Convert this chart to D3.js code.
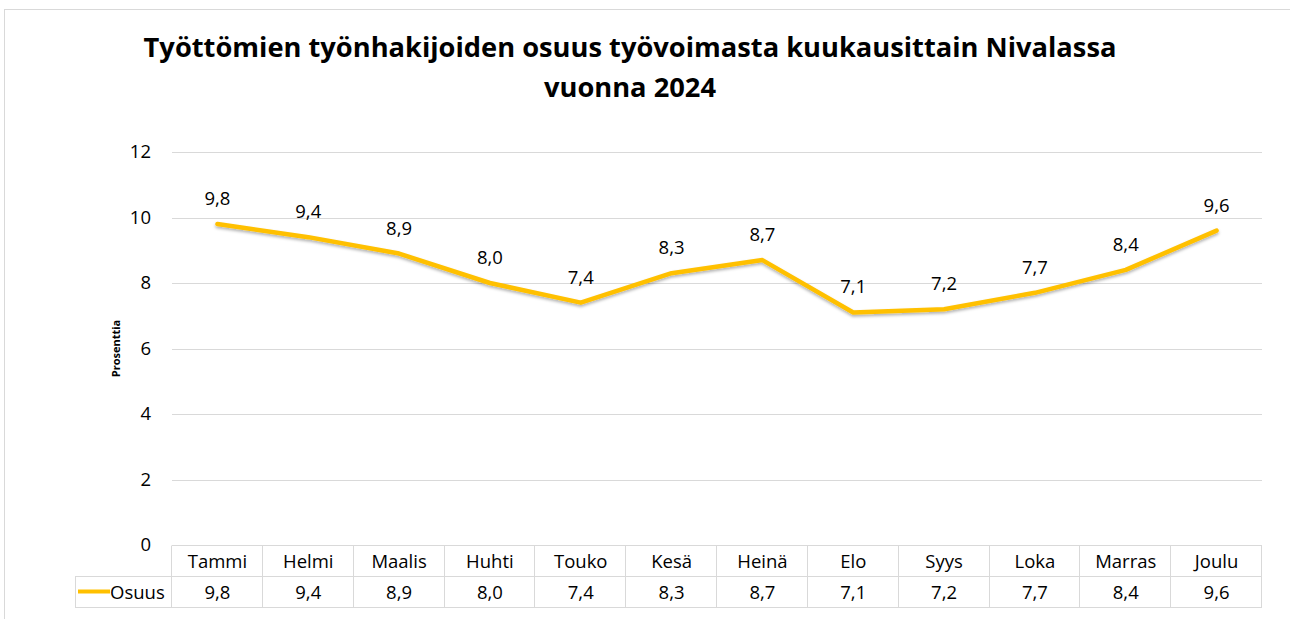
<!DOCTYPE html>
<html>
<head>
<meta charset="utf-8">
<script src="https://cdn.jsdelivr.net/npm/d3@7"></script>
<style>
  html, body { margin: 0; padding: 0; background: #fff; }
  svg { display: block; font-family: "Open Sans", Lato, sans-serif; }
</style>
</head>
<body>
<svg id="chart" width="1290" height="619"></svg>
<script>
// data
const months = ["Tammi", "Helmi", "Maalis", "Huhti", "Touko", "Kesä", "Heinä", "Elo", "Syys", "Loka", "Marras", "Joulu"];
const osuus = [9.8, 9.4, 8.9, 8.0, 7.4, 8.3, 8.7, 7.1, 7.2, 7.7, 8.4, 9.6];
const yTicks = [0, 2, 4, 6, 8, 10, 12];
const seriesName = "Osuus";
const titleLines = ["Työttömien työnhakijoiden osuus työvoimasta kuukausittain Nivalassa", "vuonna 2024"];

const svg = d3.select("#chart");
const W = 1290, H = 619;
const lineColor = "#FFC000";
const gridColor = "#d9d9d9";
const fmt = (v) => v.toFixed(1).replace(".", ",");
const fs = 18.5;

// frame
svg.append("rect")
  .attr("x", 4.5).attr("y", 9.5)
  .attr("width", W + 10).attr("height", H)
  .attr("fill", "#fff").attr("stroke", "#d9d9d9");

// shadow filter for the line
const defs = svg.append("defs");
const f = defs.append("filter").attr("id", "shadow")
  .attr("x", "-5%").attr("y", "-20%").attr("width", "110%").attr("height", "140%");
f.append("feDropShadow").attr("dx", 0).attr("dy", 2).attr("stdDeviation", 1.5)
  .attr("flood-color", "#000").attr("flood-opacity", 0.3);

const plot = { left: 172, right: 1262, top: 152, bottom: 545 };

const x = d3.scaleBand().domain(months).range([plot.left, plot.right]);
const y = d3.scaleLinear().domain([0, 12]).range([plot.bottom, plot.top]);

// title
const title = svg.append("g").selectAll("text")
  .data(titleLines)
  .enter().append("text")
  .attr("x", 630)
  .attr("y", (d, i) => 57 + i * 40)
  .attr("text-anchor", "middle")
  .attr("font-size", 28)
  .attr("font-weight", "bold")
  .attr("fill", "#000")
  .text((d) => d);
// fit first line to the width of the original title (~973px)
const tw = title.nodes()[0].getComputedTextLength();
title.attr("font-size", Math.min(30, 28 * 973 / tw));

// gridlines
svg.append("g").selectAll("line")
  .data(yTicks.filter((t) => t > 0))
  .enter().append("line")
  .attr("x1", plot.left).attr("x2", plot.right)
  .attr("y1", (d) => Math.round(y(d)) + 0.5)
  .attr("y2", (d) => Math.round(y(d)) + 0.5)
  .attr("stroke", gridColor).attr("stroke-width", 1);

// y tick labels
svg.append("g").selectAll("text")
  .data(yTicks)
  .enter().append("text")
  .attr("x", 151)
  .attr("y", (d) => y(d) + 6)
  .attr("text-anchor", "end")
  .attr("font-size", fs)
  .attr("fill", "#000")
  .text((d) => d);

// y axis title
svg.append("text")
  .attr("transform", `translate(120, ${(plot.top + plot.bottom) / 2}) rotate(-90)`)
  .attr("text-anchor", "middle")
  .attr("font-size", 11)
  .attr("font-weight", "bold")
  .text("Prosenttia");

// data table
const rowH = 31;
const tableTop = plot.bottom + 0.5;
const tbl = svg.append("g").attr("stroke", gridColor).attr("stroke-width", 1).attr("fill", "none");
tbl.append("line").attr("x1", plot.left).attr("x2", plot.right).attr("y1", tableTop).attr("y2", tableTop);
tbl.append("line").attr("x1", 75).attr("x2", plot.right).attr("y1", tableTop + rowH).attr("y2", tableTop + rowH);
tbl.append("line").attr("x1", 75).attr("x2", plot.right).attr("y1", tableTop + rowH * 2).attr("y2", tableTop + rowH * 2);
tbl.append("line").attr("x1", 75.5).attr("x2", 75.5).attr("y1", tableTop + rowH).attr("y2", tableTop + rowH * 2);
const vx = months.map((m) => x(m)).concat([plot.right]);
tbl.selectAll("line.v").data(vx).enter().append("line").attr("class", "v")
  .attr("x1", (d) => Math.round(d) - 0.5).attr("x2", (d) => Math.round(d) - 0.5)
  .attr("y1", tableTop).attr("y2", tableTop + rowH * 2);

svg.append("g").selectAll("text")
  .data(months)
  .enter().append("text")
  .attr("x", (d) => x(d) + x.bandwidth() / 2)
  .attr("y", tableTop + 22)
  .attr("text-anchor", "middle")
  .attr("font-size", fs)
  .text((d) => d);

svg.append("g").selectAll("text")
  .data(osuus)
  .enter().append("text")
  .attr("x", (d, i) => x(months[i]) + x.bandwidth() / 2)
  .attr("y", tableTop + rowH + 22)
  .attr("text-anchor", "middle")
  .attr("font-size", fs)
  .text((d) => fmt(d));

// legend key in table
svg.append("line")
  .attr("x1", 78).attr("x2", 110)
  .attr("y1", tableTop + rowH + 15).attr("y2", tableTop + rowH + 15)
  .attr("stroke", lineColor).attr("stroke-width", 4);
svg.append("text")
  .attr("x", 110).attr("y", tableTop + rowH + 22)
  .attr("font-size", fs)
  .text(seriesName);

// line
const line = d3.line()
  .x((d, i) => x(months[i]) + x.bandwidth() / 2)
  .y((d) => y(d));

svg.append("path")
  .datum(osuus)
  .attr("d", line)
  .attr("fill", "none")
  .attr("stroke", lineColor)
  .attr("stroke-width", 4.5)
  .attr("stroke-linecap", "round")
  .attr("stroke-linejoin", "round")
  .attr("filter", "url(#shadow)");

// data labels
svg.append("g").selectAll("text")
  .data(osuus)
  .enter().append("text")
  .attr("x", (d, i) => x(months[i]) + x.bandwidth() / 2)
  .attr("y", (d) => y(d) - 19)
  .attr("text-anchor", "middle")
  .attr("font-size", fs)
  .text((d) => fmt(d));
</script>
</body>
</html>
